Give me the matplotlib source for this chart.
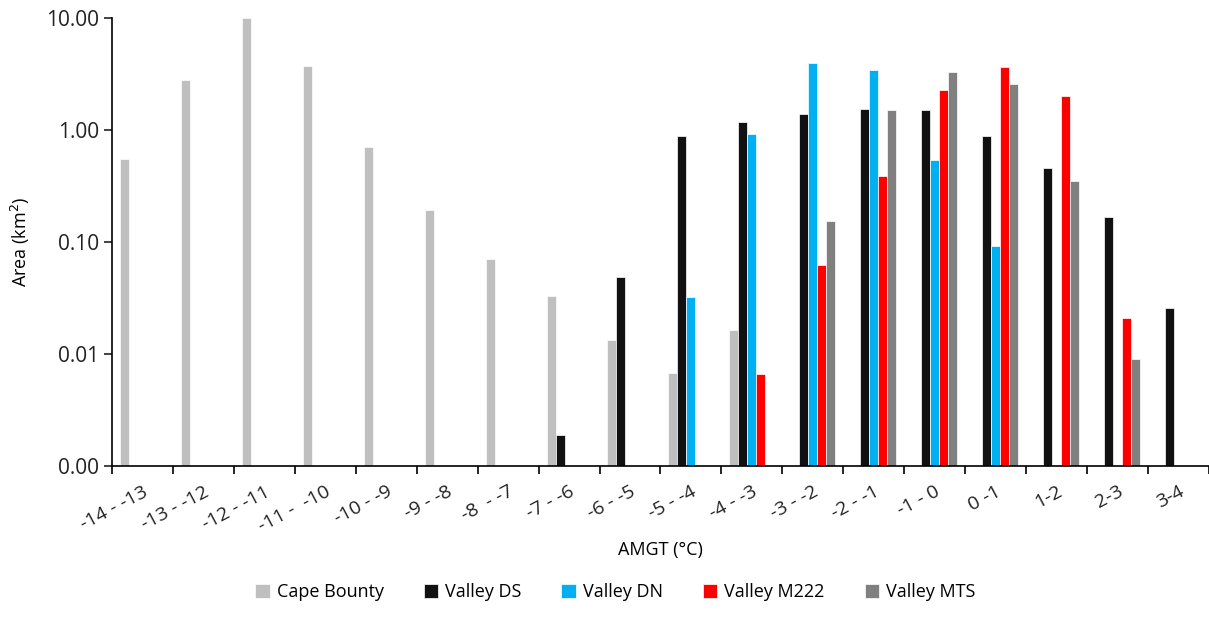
import numpy as np
import matplotlib.pyplot as plt
import matplotlib.ticker as mticker

plt.rcParams["font.family"] = ["Open Sans", "DejaVu Sans"]

# AMGT classes (°C)
classes = ["-14 - -13", "-13 - -12", "-12 - -11", "-11 -  -10", "-10 - -9", "-9 - -8",
           "-8  - -7", "-7 - -6", "-6 - -5", "-5 - -4", "-4 - -3", "-3 - -2",
           "-2 - -1", "-1 - 0", "0 -1", "1-2", "2-3", "3-4"]

nan = np.nan
# Area per AMGT class (km²); nan = no area in that class
cape_bounty = [0.55, 2.79, 10.1, 3.70, 0.70, 0.194, 0.071, 0.0332, 0.0133, 0.0068,
               0.0164, nan, nan, nan, nan, nan, nan, nan]
valley_ds = [nan, nan, nan, nan, nan, nan, nan, 0.0019, 0.049, 0.88,
             1.19, 1.39, 1.53, 1.51, 0.88, 0.46, 0.166, 0.0259]
valley_dn = [nan, nan, nan, nan, nan, nan, nan, nan, nan, 0.0325,
             0.92, 3.93, 3.45, 0.54, 0.093, nan, nan, nan]
valley_m222 = [nan, nan, nan, nan, nan, nan, nan, nan, nan, nan,
               0.0066, 0.0627, 0.385, 2.27, 3.65, 2.02, 0.0209, nan]
valley_mts = [nan, nan, nan, nan, nan, nan, nan, nan, nan, nan,
              nan, 0.155, 1.50, 3.32, 2.55, 0.35, 0.00895, nan]

series = [
    ("Cape Bounty", cape_bounty, "#BFBFBF"),
    ("Valley DS", valley_ds, "#111111"),
    ("Valley DN", valley_dn, "#00B0F0"),
    ("Valley M222", valley_m222, "#FF0000"),
    ("Valley MTS", valley_mts, "#808080"),
]

fig = plt.figure(figsize=(12.09, 6.32), dpi=100)
ax = fig.add_axes([0.0926, 0.2627, 0.9074, 0.7088])

x = np.arange(len(classes))
width = 0.148
for i, (name, vals, color) in enumerate(series):
    ax.bar(x + (i - 2) * width, vals, width=width, color=color,
           edgecolor="white", linewidth=0.5, label=name)

ax.set_yscale("log")
ax.set_ylim(0.001, 10)
ax.set_xlim(-0.5, len(classes) - 0.5)
ax.yaxis.set_major_locator(mticker.FixedLocator([0.001, 0.01, 0.1, 1, 10]))
ax.yaxis.set_minor_locator(mticker.NullLocator())
ax.yaxis.set_major_formatter(mticker.FuncFormatter(lambda v, _: f"{v:.2f}"))

# category ticks sit on the class boundaries, labels at the class centres
ax.set_xticks(np.arange(len(classes) + 1) - 0.5)
ax.set_xticklabels([])
ax.set_xticks(x, minor=True)
ax.set_xticklabels(classes, minor=True, rotation=28, ha="right",
                   rotation_mode="anchor", fontsize=14, color="#222222")
ax.tick_params(axis="x", which="minor", length=0, pad=12)
ax.tick_params(axis="x", which="major", length=6, width=1.2, direction="out")
ax.tick_params(axis="y", length=6, width=1.2, labelsize=15, colors="#222222")

for side in ["top", "right"]:
    ax.spines[side].set_visible(False)
for side in ["left", "bottom"]:
    ax.spines[side].set_linewidth(1.2)

ax.set_ylabel("Area (km$^2$)", fontsize=13, labelpad=10)
ax.set_xlabel("AMGT (°C)", fontsize=13, labelpad=4)

fig.legend(loc="center", bbox_to_anchor=(0.509, 0.063), ncol=5, frameon=False,
           fontsize=13, handlelength=0.8, handleheight=0.8, handletextpad=0.4,
           columnspacing=2.2)

plt.savefig("out.png", dpi=100)
